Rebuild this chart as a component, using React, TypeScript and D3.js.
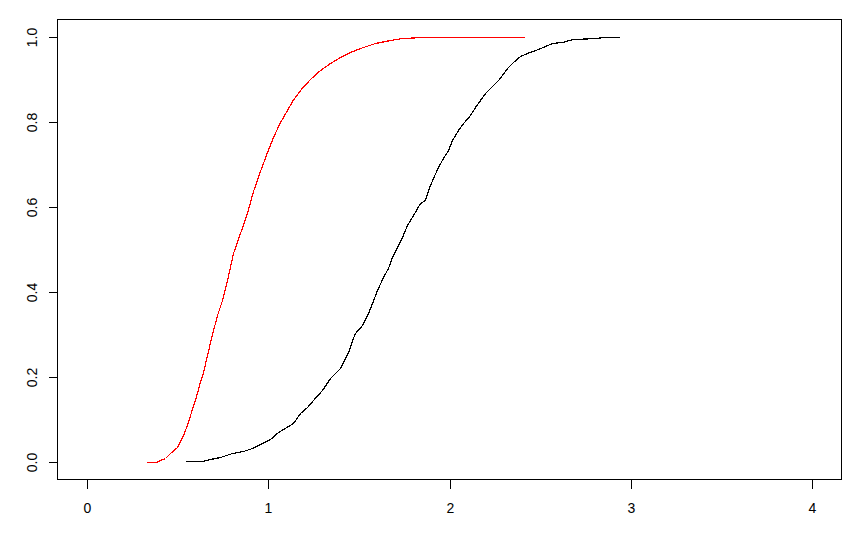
import React from "react";
import * as d3 from "d3";

const xTicks = [0, 1, 2, 3, 4];
const yTicks = [0, 0.2, 0.4, 0.6, 0.8, 1.0];
const yTickLabels = ["0.0", "0.2", "0.4", "0.6", "0.8", "1.0"];

// Red ECDF
const redX = [0.328, 0.383, 0.405, 0.433, 0.46, 0.499, 0.532, 0.559, 0.587, 0.598, 0.62, 0.642, 0.664, 0.692, 0.719, 0.747, 0.774, 0.807, 0.846, 0.884, 0.917, 0.956, 0.995, 1.028, 1.066, 1.105, 1.132, 1.176, 1.231, 1.287, 1.342, 1.397, 1.452, 1.507, 1.59, 1.672, 1.738, 1.854, 2.41];
const redY = [0, 0, 0.006, 0.011, 0.022, 0.036, 0.064, 0.095, 0.135, 0.147, 0.182, 0.212, 0.252, 0.302, 0.346, 0.381, 0.429, 0.492, 0.539, 0.586, 0.638, 0.684, 0.728, 0.765, 0.799, 0.828, 0.849, 0.874, 0.9, 0.921, 0.938, 0.952, 0.964, 0.973, 0.985, 0.992, 0.996, 1.0, 1.0];

// Black ECDF
const blackX = [0.543, 0.636, 0.68, 0.736, 0.802, 0.862, 0.912, 0.945, 1.011, 1.055, 1.138, 1.176, 1.215, 1.248, 1.298, 1.342, 1.397, 1.446, 1.463, 1.479, 1.518, 1.551, 1.573, 1.601, 1.634, 1.661, 1.683, 1.711, 1.738, 1.766, 1.799, 1.837, 1.865, 1.882, 1.909, 1.937, 1.964, 1.992, 2.014, 2.047, 2.08, 2.113, 2.141, 2.168, 2.196, 2.223, 2.251, 2.273, 2.317, 2.35, 2.388, 2.427, 2.487, 2.565, 2.62, 2.68, 2.813, 2.84, 2.934];
const blackY = [0.003, 0.003, 0.008, 0.013, 0.022, 0.027, 0.034, 0.041, 0.055, 0.071, 0.093, 0.116, 0.13, 0.147, 0.17, 0.198, 0.222, 0.264, 0.287, 0.303, 0.323, 0.351, 0.374, 0.405, 0.435, 0.456, 0.482, 0.506, 0.529, 0.557, 0.581, 0.609, 0.616, 0.64, 0.668, 0.694, 0.715, 0.734, 0.757, 0.781, 0.799, 0.816, 0.834, 0.851, 0.867, 0.879, 0.891, 0.9, 0.926, 0.94, 0.954, 0.961, 0.97, 0.985, 0.987, 0.994, 0.996, 1.0, 1.0];

const W = 861;
const H = 537;

export default function App() {
  const x = d3.scaleLinear().domain([-0.16, 4.16]).range([57.5, 841.5]);
  const y = d3.scaleLinear().domain([-0.04, 1.04]).range([479.5, 19.5]);
  const line = d3
    .line<[number, number]>()
    .x((d) => Math.round(x(d[0])) + 0.5)
    .y((d) => Math.round(y(d[1])) + 0.5)
    .curve(d3.curveLinear);
  const red: [number, number][] = redX.map((v, i) => [v, redY[i]]);
  const black: [number, number][] = blackX.map((v, i) => [v, blackY[i]]);
  const font = "'Liberation Sans', Arial, sans-serif";
  const px = (v: number) => Math.round(x(v)) + 0.5;
  const py = (v: number) => Math.round(y(v)) + 0.5;
  return (
    <svg
      width={W}
      height={H}
      style={{ position: "absolute", left: 0, top: 0, background: "#fff" }}
      fontFamily={font}
    >
      <rect x={0} y={0} width={W} height={H} fill="#fff" />
      <path d={line(red) || ""} fill="none" stroke="#ff0000" strokeWidth={1.2} shapeRendering="crispEdges" />
      <path d={line(black) || ""} fill="none" stroke="#000" strokeWidth={1.2} shapeRendering="crispEdges" />
      <rect x={57.5} y={19.5} width={784} height={460} fill="none" stroke="#000" strokeWidth={1} shapeRendering="crispEdges" />
      {xTicks.map((t) => (
        <g key={"x" + t}>
          <line x1={px(t)} x2={px(t)} y1={479.5} y2={488.5} stroke="#000" shapeRendering="crispEdges" />
          <text x={px(t)} y={513} textAnchor="middle" fontSize={14}>
            {String(t)}
          </text>
        </g>
      ))}
      {yTicks.map((t, i) => (
        <g key={"y" + t}>
          <line x1={48.5} x2={57.5} y1={py(t)} y2={py(t)} stroke="#000" shapeRendering="crispEdges" />
          <text
            transform={`translate(37,${py(t)}) rotate(-90)`}
            textAnchor="middle"
            fontSize={14}
          >
            {yTickLabels[i]}
          </text>
        </g>
      ))}
    </svg>
  );
}
